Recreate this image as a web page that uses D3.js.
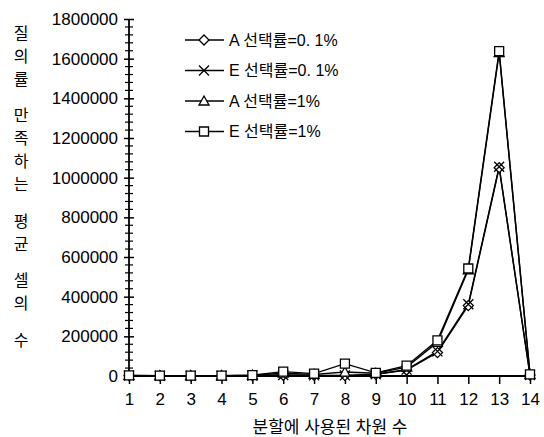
<!DOCTYPE html>
<html lang="ko">
<head>
  <meta charset="UTF-8">
  <title>분할에 사용된 차원 수</title>
  <script src="https://d3js.org/d3.v7.min.js"></script>
  <style>
    body { margin: 0; background: #fff; }
    text { font-family: "Liberation Sans", Arial, "Noto Sans CJK KR", sans-serif; fill: #000; }
  </style>
</head>
<body>
  <svg width="544" height="437"></svg>

  <script>
    // 데이터
    const dims = [1, 2, 3, 4, 5, 6, 7, 8, 9, 10, 11, 12, 13, 14];
    const seriesNames = ["A 선택률=0. 1%", "E 선택률=0. 1%", "A 선택률=1%", "E 선택률=1%"];
    const a01 = [2000, 1000, 1000, 1000, 2000, 4000, 3000, 2000, 8000, 30000, 118000, 355000, 1050000, 5000];
    const e01 = [2000, 1000, 1000, 1000, 2000, 5000, 3000, 3000, 9000, 32000, 124000, 362000, 1055000, 5000];
    const a1  = [3000, 2000, 2000, 2000, 4000, 14000, 8000, 20000, 14000, 45000, 170000, 535000, 1630000, 8000];
    const e1  = [3000, 2000, 2000, 2000, 4000, 22000, 12000, 62000, 16000, 52000, 180000, 542000, 1638000, 8000];
    const yTicks = [0, 200000, 400000, 600000, 800000, 1000000, 1200000, 1400000, 1600000, 1800000];
    const yTitle = "질의률 만족하는 평균 셀의 수";
    const xTitle = "분할에 사용된 차원 수";

    const svg = d3.select("svg");

    const x = d3.scaleLinear().domain([1, 14]).range([129, 530]);
    const y = d3.scaleLinear().domain([0, 1800000]).range([376, 19]);

    // 마커 모양
    const marker = {
      diamond: "M0,-5L5,0L0,5L-5,0Z",
      cross: "M-5,-5L5,5M5,-5L-5,5",
      triangle: "M0,-5L5,4L-5,4Z",
      square: "M-4.5,-4.5H4.5V4.5H-4.5Z"
    };
    const series = [
      { name: seriesNames[0], values: a01, shape: "diamond" },
      { name: seriesNames[1], values: e01, shape: "cross" },
      { name: seriesNames[2], values: a1, shape: "triangle" },
      { name: seriesNames[3], values: e1, shape: "square" }
    ];

    // y축 (보조 눈금 포함)
    const yAxis = svg.append("g")
      .attr("transform", "translate(129,0)")
      .call(d3.axisLeft(y).tickValues(yTicks).tickSize(5).tickPadding(6).tickFormat(d3.format("d")));
    yAxis.selectAll(".tick line").attr("x1", -5).attr("x2", 5).attr("stroke-width", 1.5);
    yAxis.selectAll(".tick text").attr("font-size", 17);
    yAxis.select(".domain").remove();

    const minor = d3.range(0, 1800001, 40000).filter(v => v % 200000 !== 0);
    svg.append("g").selectAll("line")
      .data(minor).enter().append("line")
      .attr("x1", 125).attr("x2", 133)
      .attr("y1", d => y(d)).attr("y2", d => y(d))
      .attr("stroke", "#000").attr("stroke-width", 1.2);
    svg.append("line")
      .attr("x1", 129).attr("x2", 129).attr("y1", y(1800000)).attr("y2", 376)
      .attr("stroke", "#000").attr("stroke-width", 1.8);

    // x축
    const xAxis = svg.append("g")
      .attr("transform", "translate(0,376)")
      .call(d3.axisBottom(x).tickValues(dims).tickSize(8).tickPadding(9).tickFormat(d3.format("d")));
    xAxis.select(".domain").attr("d", "M129,0H534").attr("stroke-width", 1.8);
    xAxis.selectAll(".tick line").attr("stroke-width", 1.5);
    xAxis.selectAll(".tick text").attr("font-size", 17);

    // 선과 마커
    const line = d3.line().x((d, i) => x(dims[i])).y(d => y(d));
    series.forEach(s => {
      svg.append("path")
        .attr("d", line(s.values))
        .attr("fill", "none").attr("stroke", "#000").attr("stroke-width", 1.4);
    });
    series.forEach(s => {
      svg.append("g").selectAll("path")
        .data(s.values).enter().append("path")
        .attr("transform", (d, i) => "translate(" + x(dims[i]) + "," + y(d) + ")")
        .attr("d", marker[s.shape])
        .attr("fill", s.shape === "cross" ? "none" : "#fff")
        .attr("stroke", "#000").attr("stroke-width", 1.3);
    });

    // 범례
    const legend = svg.append("g");
    series.forEach((s, i) => {
      const ly = 40 + i * 30.5;
      legend.append("line")
        .attr("x1", 185).attr("x2", 224).attr("y1", ly).attr("y2", ly)
        .attr("stroke", "#000").attr("stroke-width", 1.4);
      legend.append("path")
        .attr("transform", "translate(204," + ly + ")")
        .attr("d", marker[s.shape])
        .attr("fill", s.shape === "cross" ? "none" : "#fff")
        .attr("stroke", "#000").attr("stroke-width", 1.3);
      legend.append("text")
        .attr("x", 229).attr("y", ly).attr("dy", "0.36em")
        .attr("font-size", 16)
        .text(s.name);
    });

    // 축 제목
    svg.append("text")
      .attr("x", 330).attr("y", 427).attr("dy", "0.36em")
      .attr("text-anchor", "middle").attr("font-size", 17)
      .text(xTitle);

    let cy = 33;
    const yt = svg.append("text").attr("font-size", 16).attr("text-anchor", "middle");
    Array.from(yTitle).forEach(ch => {
      if (ch === " ") { cy += 13.5; return; }
      yt.append("tspan").attr("x", 21).attr("y", cy).attr("dy", "0.36em").text(ch);
      cy += 23;
    });
  </script>
</body>
</html>
